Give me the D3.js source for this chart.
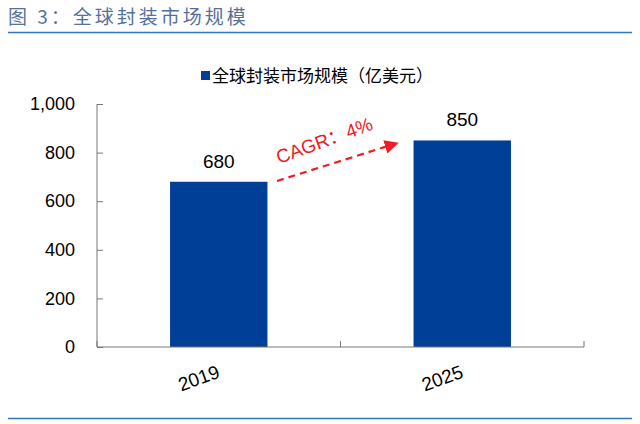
<!DOCTYPE html>
<html><head><meta charset="utf-8">
<script src="https://cdn.jsdelivr.net/npm/d3@7"></script>
<style>body{margin:0;background:#fff}svg{display:block}</style>
</head><body>
<svg id="c" width="640" height="424"></svg>
<script>
const categories = ["2019", "2025"];
const values = [680, 850];
const yTicks = [0, 200, 400, 600, 800, 1000];
const titleText = "图 3：全球封装市场规模";
const legendText = "全球封装市场规模（亿美元）";
const cagrText = "CAGR：4%";

const svg = d3.select("#c");
const font = "Arial, 'Liberation Sans', 'Noto Sans CJK SC', sans-serif";
const cjk = "'Noto Sans CJK SC', sans-serif";

// title
svg.append("text").attr("x", 8).attr("y", 24).attr("font-family", cjk)
  .attr("font-size", 19).attr("fill", "#55709a").attr("letter-spacing", 3).text(titleText);
svg.append("line").attr("x1", 8).attr("x2", 632).attr("y1", 32.5).attr("y2", 32.5)
  .attr("stroke", "#2b78c0").attr("stroke-width", 1.5);
svg.append("line").attr("x1", 8).attr("x2", 632).attr("y1", 418.5).attr("y2", 418.5)
  .attr("stroke", "#2b78c0").attr("stroke-width", 1.5);

const x = d3.scaleBand().domain(categories).range([97, 584]).paddingInner(0.6).paddingOuter(0.3);
const y = d3.scaleLinear().domain([0, 1000]).range([347, 104]);

const g = svg.append("g");
// bars
g.selectAll("rect.bar").data(values).join("rect").attr("class", "bar")
  .attr("x", (d, i) => x(categories[i])).attr("width", x.bandwidth())
  .attr("y", d => y(d)).attr("height", d => y(0) - y(d)).attr("fill", "#003f98");

// value labels
g.selectAll("text.val").data(values).join("text").attr("class", "val")
  .attr("x", (d, i) => x(categories[i]) + x.bandwidth() / 2).attr("y", d => y(d) - 14)
  .attr("text-anchor", "middle").attr("font-family", font).attr("font-size", 19)
  .attr("fill", "#000").text(d => d);

// y axis
const yAxis = d3.axisLeft(y).tickValues(yTicks).tickSize(-6).tickPadding(22)
  .tickFormat(d3.format(","));
const ya = svg.append("g").attr("transform", "translate(97,0)").call(yAxis);
ya.select(".domain").attr("stroke", "#777").attr("d", `M0,${y(1000)}V${y(0)}`);
ya.selectAll(".tick line").attr("stroke", "#777");
ya.selectAll(".tick text").attr("font-family", font).attr("font-size", 18).attr("fill", "#000");

// x axis baseline & ticks (category boundaries)
const xa = svg.append("g");
xa.append("line").attr("x1", 97).attr("x2", 584).attr("y1", y(0)).attr("y2", y(0)).attr("stroke", "#777");
const bounds = [97, (x(categories[0]) + x.bandwidth() + x(categories[1])) / 2, 584];
xa.selectAll("line.t").data(bounds).join("line").attr("class", "t")
  .attr("x1", d => d).attr("x2", d => d).attr("y1", y(0)).attr("y2", y(0) - 6).attr("stroke", "#777");
xa.selectAll("text").data(categories).join("text")
  .attr("transform", d => `translate(${x(d) + x.bandwidth() / 2 - 20},${y(0) + 31}) rotate(-20)`)
  .attr("text-anchor", "middle").attr("dy", "0.35em").attr("font-family", font).attr("font-size", 19).attr("fill", "#000")
  .text(d => d);

// legend
svg.append("rect").attr("x", 201).attr("y", 71).attr("width", 9).attr("height", 9).attr("fill", "#003f98");
svg.append("text").attr("x", 212).attr("y", 82).attr("font-family", cjk).attr("font-size", 17)
  .attr("fill", "#000").text(legendText);

// CAGR arrow
const defs = svg.append("defs");
defs.append("marker").attr("id", "ah").attr("viewBox", "0 0 10 10").attr("refX", 2).attr("refY", 5)
  .attr("markerUnits", "userSpaceOnUse").attr("markerWidth", 14).attr("markerHeight", 14).attr("orient", "auto")
  .append("path").attr("d", "M0,0L10,5L0,10Z").attr("fill", "#ee1c25");
svg.append("line").attr("x1", 277).attr("y1", 181).attr("x2", 388).attr("y2", 146)
  .attr("stroke", "#ee1c25").attr("stroke-width", 2.2).attr("stroke-dasharray", "7,5")
  .attr("marker-end", "url(#ah)");
svg.append("text").attr("transform", "translate(279,164) rotate(-20)")
  .attr("font-family", font).attr("font-size", 19).attr("fill", "#ee1c25").text(cagrText);
</script>
</body></html>
